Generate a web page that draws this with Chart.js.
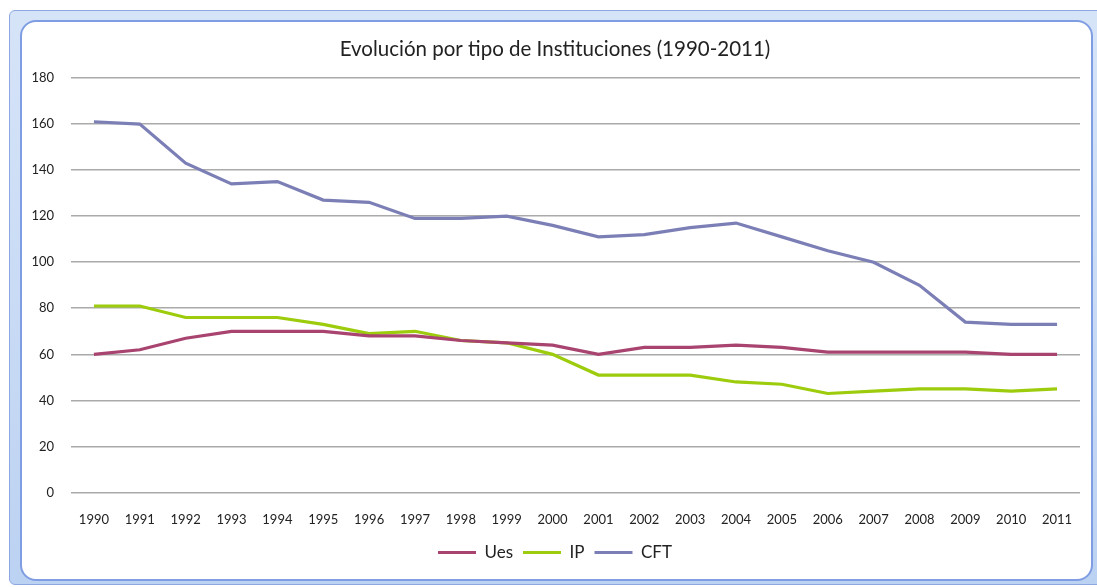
<!DOCTYPE html>
<html>
<head>
<meta charset="utf-8">
<script src="https://cdn.jsdelivr.net/npm/chart.js@4.4.1/dist/chart.umd.min.js"></script>
<style>
  html, body { margin: 0; padding: 0; background: #fff; overflow: hidden; }
  #marco {
    position: absolute; left: 9px; top: 10px; width: 1100px; height: 575px;
    background: linear-gradient(#d6e4f8, #bcd2f2);
    border: 1px solid #8ca7e2; border-radius: 6px; box-sizing: border-box;
  }
  #interior {
    position: absolute; left: 20px; top: 20px; width: 1073px; height: 561px;
    background: #fff; border: 2px solid #7f9de2; border-radius: 16px; box-sizing: border-box;
  }
  #grafica { position: absolute; left: 0; top: 0; }
</style>
</head>
<body>
<div id="marco"></div>
<div id="interior"></div>
<canvas id="grafica" width="1097" height="587"></canvas>
<script>
// datos
const anios = ['1990','1991','1992','1993','1994','1995','1996','1997','1998','1999','2000',
               '2001','2002','2003','2004','2005','2006','2007','2008','2009','2010','2011'];
const ues = [60, 62, 67, 70, 70, 70, 68, 68, 66, 65, 64, 60, 63, 63, 64, 63, 61, 61, 61, 61, 60, 60];
const ip  = [81, 81, 76, 76, 76, 73, 69, 70, 66, 65, 60, 51, 51, 51, 48, 47, 43, 44, 45, 45, 44, 45];
const cft = [161, 160, 143, 134, 135, 127, 126, 119, 119, 120, 116, 111, 112, 115, 117, 111, 105, 100, 90, 74, 73, 73];
const ticksY = [0, 20, 40, 60, 80, 100, 120, 140, 160, 180];

const fuente = "Lato, 'Open Sans', sans-serif";

function serie(nombre, valores, color) {
  return {
    label: nombre,
    data: valores,
    borderColor: color,
    backgroundColor: color,
    borderWidth: 3.2,
    pointRadius: 0,
    tension: 0,
    pointStyle: 'line'
  };
}

const data = {
  labels: anios,
  datasets: [
    serie('Ues', ues, '#a8446f'),
    serie('IP', ip, '#9ccc0c'),
    serie('CFT', cft, '#7b7fb6')
  ]
};

const config = {
  type: 'line',
  data: data,
  options: {
    responsive: false,
    animation: false,
    layout: { padding: { left: 30, right: 17, top: 37.5, bottom: 16 } },
    plugins: {
      title: {
        display: true,
        text: 'Evolución por tipo de Instituciones (1990-2011)',
        color: '#222',
        font: { family: fuente, size: 20.5, weight: 'normal' },
        padding: { top: 0, bottom: 15.9 }
      },
      legend: {
        position: 'bottom',
        labels: {
          usePointStyle: true,
          pointStyleWidth: 38,
          color: '#222',
          font: { family: fuente, size: 17 },
          padding: 10
        }
      },
      tooltip: { enabled: false }
    },
    scales: {
      x: {
        offset: true,
        grid: { display: false },
        border: { display: false },
        afterFit: (scale) => { scale.height = 41.5; },
        ticks: {
          color: '#222',
          font: { family: fuente, size: 13 },
          padding: 12,
          maxRotation: 0,
          autoSkip: false
        }
      },
      y: {
        min: 0,
        max: 180,
        afterBuildTicks: (scale) => { scale.ticks = ticksY.map(v => ({ value: v })); },
        afterFit: (scale) => { scale.width = 41; },
        grid: { color: '#aaaaaa', lineWidth: 1.6, drawTicks: false },
        border: { display: false },
        ticks: {
          color: '#222',
          font: { family: fuente, size: 13 },
          padding: 17
        }
      }
    }
  }
};

let graph = document.getElementById("grafica");
let grafico = new Chart(graph, config);
</script>
</body>
</html>
